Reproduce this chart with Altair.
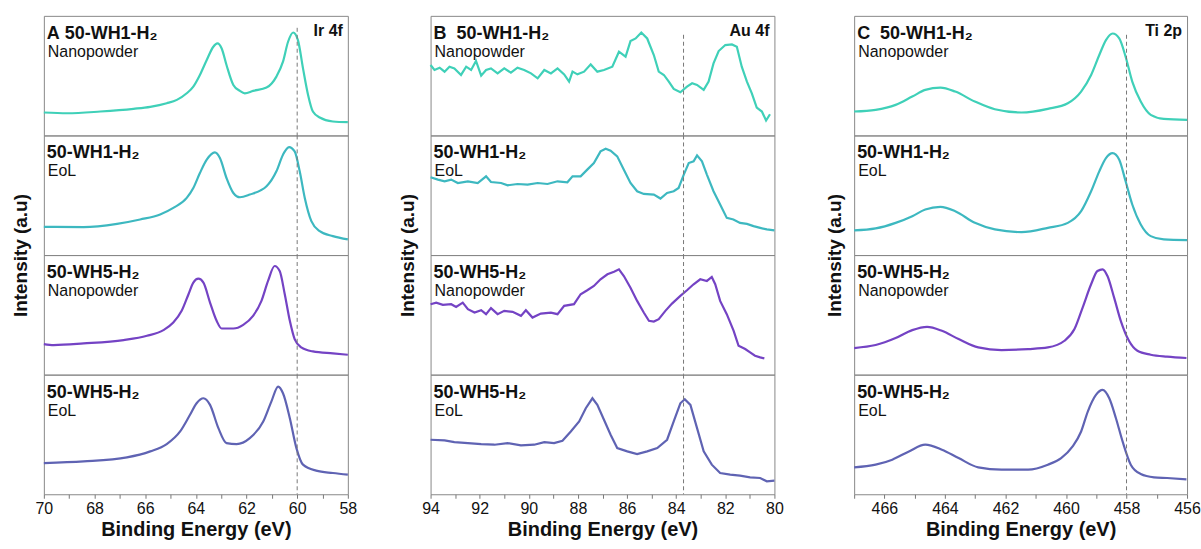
import altair as alt
import pandas as pd

FONT = "Liberation Sans"
PANEL_H = 120

# ---------------- Panel A : Ir 4f ----------------
A1_E = [70.0, 69.08, 67.77, 66.46, 65.80, 65.15, 64.75, 64.36, 64.10, 63.84, 63.57, 63.31, 63.15, 62.98, 62.79, 62.52,
        62.26, 62.07, 61.74, 61.21, 60.82, 60.56, 60.36, 60.16, 59.97, 59.77, 59.57, 59.38, 59.11, 58.59, 58.0]
A1_I = [23, 22.3, 24, 26.7, 28.7, 32.3, 35.7, 42.3, 49, 60.7, 75.7, 89, 92.3, 87.3, 70.7, 50.7,
        44.7, 42.3, 44.7, 48, 59, 74, 94, 103.3, 95.7, 67.3, 40.7, 24, 18, 14, 13.3]

A2_E = [70.0, 68.43, 67.11, 66.2, 65.41, 64.89, 64.36, 64.10, 63.84, 63.57, 63.25, 63.05, 62.79, 62.52, 62.26, 61.87,
        61.21, 60.82, 60.56, 60.32, 60.10, 59.90, 59.70, 59.44, 59.11, 58.59, 58.0]
A2_I = [28.3, 28, 31.3, 35.7, 40.7, 47.3, 57.3, 67.3, 82.3, 95.7, 103, 97.3, 77.3, 62.3, 58, 60.7,
        69, 84, 100.7, 108.3, 104, 84, 57.3, 34, 24, 19, 15.7]

A3_E = [70.0, 69.61, 68.43, 66.85, 65.93, 65.28, 64.89, 64.56, 64.29, 64.10, 63.90, 63.70, 63.44, 63.18, 62.98, 62.52,
        62.13, 61.74, 61.41, 61.15, 60.89, 60.69, 60.49, 60.29, 60.10, 59.84, 59.38, 58.59, 58.0]
A3_I = [30.7, 29.7, 31.3, 34.7, 39, 44.7, 52.3, 64, 80.7, 92.3, 96.3, 92.3, 72.3, 54, 46.3, 46.3,
        50, 59, 74, 94, 109, 104, 80.7, 54, 35.7, 27.3, 23.3, 21.3, 20]

A4_E = [70.0, 68.43, 66.72, 65.80, 65.15, 64.62, 64.23, 63.97, 63.70, 63.44, 63.11, 62.79, 62.39, 61.87, 61.34, 61.02,
        60.75, 60.56, 60.29, 60.03, 59.77, 59.25, 58.59, 58.0]
A4_I = [31.3, 33, 37, 43, 50.3, 63, 79.7, 91.3, 96.3, 89.7, 66.3, 51.3, 50.3, 56.3, 73, 93,
        108, 101.3, 76.3, 46.3, 29.7, 23.7, 21.3, 19.7]

# ---------------- Panel B : Au 4f ----------------
B1_E = [94.00, 93.84, 93.63, 93.43, 93.23, 93.03, 92.76, 92.55, 92.35, 92.15, 91.94, 91.74, 91.54, 91.27, 91.00, 90.73,
        90.46, 90.19, 89.91, 89.64, 89.37, 89.10, 88.83, 88.56, 88.36, 88.22, 88.02, 87.75, 87.48, 87.21, 86.94, 86.60,
        86.33, 86.06, 85.86, 85.65, 85.42, 85.18, 84.91, 84.71, 84.50, 84.30, 84.10, 83.83, 83.56, 83.35, 83.15, 82.88,
        82.68, 82.48, 82.27, 82.00, 81.73, 81.53, 81.33, 81.12, 80.92, 80.72, 80.51, 80.34, 80.18]
B1_I = [70.7, 65.7, 68, 64, 69, 67.3, 60.7, 69, 65.7, 74.7, 60, 65.7, 67.3, 62.3, 67.3, 63,
        68, 65.7, 62.3, 57.3, 65.7, 62.3, 67.3, 61.3, 54, 64, 61.3, 64, 71.3, 64, 65.7, 69,
        84, 79, 94.7, 97.3, 103.3, 97.3, 80.7, 64, 60.7, 54, 46.7, 43.3, 49, 52.3, 50.7, 45.7,
        54, 72.3, 84.7, 90.7, 91.3, 89, 69, 54, 42.3, 28, 24, 15, 21.3]

B2_E = [94.00, 93.70, 93.43, 93.16, 92.89, 92.48, 92.08, 91.74, 91.54, 91.13, 90.86, 90.46, 90.05, 89.64, 89.24, 88.83,
        88.43, 88.22, 87.89, 87.62, 87.35, 87.08, 86.87, 86.67, 86.40, 86.13, 85.86, 85.59, 85.32, 84.91, 84.64, 84.37,
        84.10, 83.90, 83.69, 83.49, 83.29, 83.15, 82.95, 82.75, 82.48, 82.21, 81.94, 81.67, 81.40, 81.12, 80.85, 80.58,
        80.31, 80.00]
B2_I = [78, 75.7, 74, 75.7, 72.3, 74, 72.3, 79, 73.3, 72.3, 70, 71.3, 70.7, 72.3, 71.3, 74,
        73, 79, 79, 85.7, 92.3, 104, 106.7, 104.7, 99, 85.7, 72.3, 64, 61.3, 60.7, 56.7, 62.3,
        64, 67.3, 80.7, 92.3, 94, 100, 94, 80.7, 64, 50.7, 37.3, 35.7, 32.3, 31.3, 29, 27.3,
        25.7, 24.7]

B3_E = [94.00, 93.77, 93.50, 93.16, 92.96, 92.69, 92.48, 92.21, 91.94, 91.74, 91.54, 91.27, 91.00, 90.66, 90.32, 90.12,
        89.85, 89.51, 89.10, 88.83, 88.56, 88.16, 87.89, 87.62, 87.35, 87.08, 86.80, 86.53, 86.33, 86.13, 85.86, 85.59,
        85.32, 85.11, 84.91, 84.71, 84.44, 84.17, 83.83, 83.56, 83.29, 83.02, 82.75, 82.55, 82.41, 82.21, 81.94, 81.66,
        81.46, 81.19, 80.99, 80.79, 80.58, 80.41]
B3_I = [70.7, 72.3, 70, 70.7, 68, 72.3, 65.7, 62.3, 64.7, 60.7, 66.7, 60.7, 64, 63, 59, 64.7,
        57.3, 61.3, 62.3, 60.7, 69, 70.7, 80.7, 84.7, 89, 95.7, 100.7, 103.3, 105.7, 99, 87.3, 74,
        62.3, 54, 53.3, 55.7, 64, 71.3, 79, 84.7, 90.7, 95.7, 94, 98, 90.7, 74, 60.7, 44,
        29, 25.7, 22.3, 19, 17.3, 16.3]

B4_E = [94.00, 93.43, 93.03, 92.48, 91.94, 91.40, 90.86, 90.32, 89.78, 89.37, 88.97, 88.63, 88.29, 87.95, 87.68, 87.41,
        87.21, 86.94, 86.67, 86.40, 85.99, 85.59, 85.18, 84.77, 84.37, 84.10, 83.83, 83.65, 83.42, 83.15, 82.88, 82.55,
        82.21, 81.80, 81.40, 80.99, 80.58, 80.31, 80.00]
B4_I = [54.7, 54, 52.3, 51.3, 50.3, 49.7, 51.3, 49, 49.7, 52.3, 51.3, 53.7, 63, 73, 86.3, 96.3,
        89.7, 74.7, 59.7, 46.3, 43, 40.3, 43, 46.3, 54.7, 73, 91.3, 95.3, 89.7, 66.3, 43, 29.7,
        21.3, 19.7, 18.7, 17, 16.3, 13, 13.7]

# ---------------- Panel C : Ti 2p ----------------
C12_E = [467.00, 466.29, 465.63, 465.08, 464.65, 464.15, 463.66, 463.01, 462.35, 461.47, 460.60, 459.94, 459.50, 459.17,
         458.90, 458.68, 458.46, 458.24, 458.03, 457.81, 457.53, 457.20, 456.77, 456.00]
C1_I = [24, 25.7, 30.7, 39, 45.7, 48, 44, 34, 26.3, 23, 26.7, 32.3, 44, 60.7, 80.7, 95.7, 102.3, 97.3, 79, 54, 34, 20.7,
        16.7, 15.7]
C2_I = [24.7, 26.7, 32.3, 39, 45.7, 48.3, 44, 32.3, 25.7, 23, 27.3, 32.3, 44, 64, 84, 97.3, 102.3, 95.7, 74, 50.7, 30.7,
        19, 15.7, 15]

C3_E = [467.00, 466.29, 465.63, 465.08, 464.59, 464.10, 463.55, 462.90, 462.13, 461.25, 460.60, 460.05, 459.72, 459.45,
        459.17, 458.96, 458.79, 458.63, 458.41, 458.19, 457.92, 457.64, 457.20, 456.66, 456.02]
C3_I = [26.7, 29.7, 36.7, 44.7, 48, 44, 35.7, 27.3, 24.7, 25.7, 27.3, 34, 45.7, 67.3, 90.7, 104, 105.7, 99, 77.3, 54, 34,
        24, 20, 18, 16.7]

C4_E = [467.00, 466.29, 465.74, 465.19, 464.65, 464.10, 463.55, 462.90, 462.13, 461.25, 460.60, 460.16, 459.78, 459.50,
        459.28, 459.01, 458.79, 458.57, 458.35, 458.13, 457.86, 457.53, 457.09, 456.66, 456.02]
C4_I = [27, 29.7, 34.7, 43, 49.7, 44.7, 36.3, 27, 24.7, 24.7, 29.7, 36.3, 48, 63, 83, 99.7, 104.7, 96.3, 76.3, 53, 29.7,
        20.3, 17, 16.3, 15]

COLORS = ["#3fd0b8", "#3db8c0", "#7443c4", "#5f63b3"]
SAMPLES = ["50-WH1-H\u2082", "50-WH1-H\u2082", "50-WH5-H\u2082", "50-WH5-H\u2082"]
STATES = ["Nanopowder", "EoL", "Nanopowder", "EoL"]


def text_layer(txt, x, y, size, weight, align="left"):
    return alt.Chart(pd.DataFrame({"t": [txt]})).mark_text(
        align=align, baseline="alphabetic", font=FONT, fontSize=size, fontWeight=weight, color="#111"
    ).encode(text="t:N", x=alt.value(x), y=alt.value(y))


def sub_chart(E, I, idx, letter, elem, ref_e, domain, width, titleX, dash_top, interp):
    scale = alt.Scale(domain=domain, reverse=True, nice=False, zero=False)
    bottom = idx == 3
    if bottom:
        lo, hi = domain
        xaxis = alt.Axis(values=list(range(lo, hi + 1)),
                         labelExpr="datum.value % 2 == 0 ? datum.label : ''",
                         labelFlush=False, labelOverlap=False, tickSize=4, tickColor="#777",
                         domain=False, grid=False, labelFontSize=16, labelFont=FONT, labelColor="#111",
                         labelPadding=2, title="Binding Energy (eV)", titleFontSize=20, titleFont=FONT,
                         titleFontWeight="bold", titleColor="#111", titlePadding=3)
    else:
        xaxis = None
    if idx == 1:
        yaxis = alt.Axis(title="Intensity (a.u)", labels=False, ticks=False, domain=False, grid=False,
                         titleX=titleX, titleY=PANEL_H, titleFontSize=19, titleFont=FONT,
                         titleFontWeight="bold", titleColor="#111")
    else:
        yaxis = None
    df = pd.DataFrame({"E": E, "I": I})
    line = alt.Chart(df).mark_line(color=COLORS[idx], strokeWidth=2.2, interpolate=interp).encode(
        x=alt.X("E:Q", scale=scale, axis=xaxis),
        y=alt.Y("I:Q", scale=alt.Scale(domain=[0, 120], nice=False, zero=False), axis=yaxis),
    )
    rule = alt.Chart(pd.DataFrame({"E": [ref_e]})).mark_rule(
        color="#777", strokeDash=[4, 3], strokeWidth=1
    ).encode(x=alt.X("E:Q", scale=scale, axis=xaxis), y=alt.value(dash_top if idx == 0 else 0),
             y2=alt.value(PANEL_H))
    head = (letter + SAMPLES[idx]) if idx == 0 else SAMPLES[idx]
    layers = [line, rule,
              text_layer(head, 3, 23, 18, "bold"),
              text_layer(STATES[idx], 4, 41, 16, "normal")]
    if idx == 0:
        layers.append(text_layer(elem, width - 5, 20, 16, "bold", align="right"))
    return alt.layer(*layers).properties(width=width, height=PANEL_H)


def column(data, letter, elem, ref_e, domain, width, titleX, dash_top, interp):
    subs = [sub_chart(E, I, i, letter, elem, ref_e, domain, width, titleX, dash_top, interp)
            for i, (E, I) in enumerate(data)]
    return alt.vconcat(*subs, spacing=0, bounds="flush")


colA = column([(A1_E, A1_I), (A2_E, A2_I), (A3_E, A3_I), (A4_E, A4_I)], "A\u00a0", "Ir 4f", 60.0,
              [58, 70], 305, -13, 12, "monotone")
colB = column([(B1_E, B1_I), (B2_E, B2_I), (B3_E, B3_I), (B4_E, B4_I)], "B\u00a0\u00a0", "Au 4f", 83.7,
              [80, 94], 345, -13, 19, "linear")
colC = column([(C12_E, C1_I), (C12_E, C2_I), (C3_E, C3_I), (C4_E, C4_I)], "C\u00a0\u00a0", "Ti 2p", 458.0,
              [456, 467], 334, -10, 19, "monotone")

chart = alt.hconcat(colA, colB, colC, spacing=40).properties(
    padding={"left": 11, "top": 14, "right": 0, "bottom": 0},
    background="white",
).configure_view(stroke="#888888", strokeWidth=1)

chart.save("out.html", embed_options={"renderer": "svg", "actions": False})
